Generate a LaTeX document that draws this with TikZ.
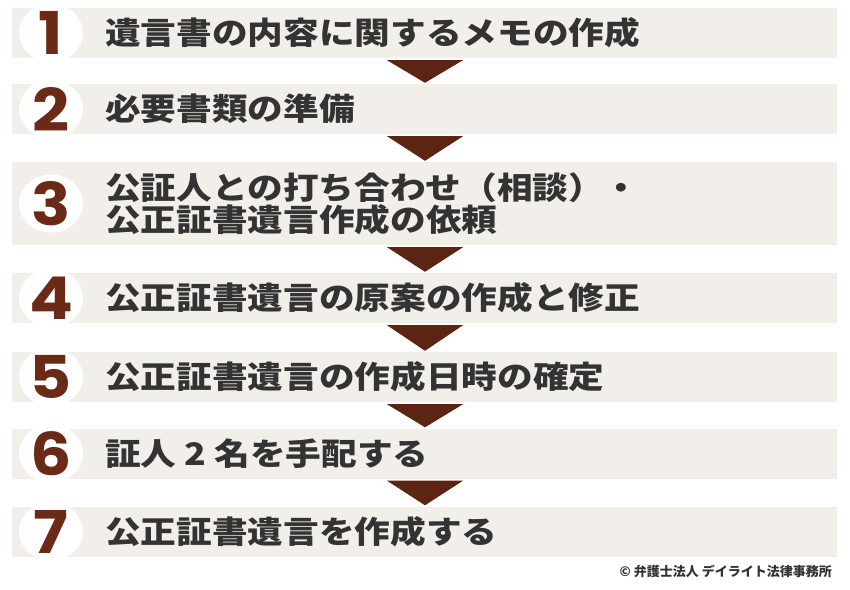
\documentclass[tikz,border=0pt]{standalone}
\usepackage{fontspec}
\usepackage{tikz}
\usetikzlibrary{calc}
\newfontfamily\jpfont{Noto Sans CJK JP}
\newfontfamily\numfont{Poppins}
\definecolor{barfill}{HTML}{F2EEE9}
\definecolor{arrowbrown}{HTML}{5B2413}
\definecolor{numbrown}{HTML}{6A2A16}
\definecolor{textgray}{HTML}{333333}
\tikzstyle{stepbar}=[shape=rectangle,fill=barfill,minimum width=825pt,minimum height=50pt,inner sep=0pt]
\tikzstyle{badge}=[shape=circle,fill=white,minimum size=58pt,inner sep=0pt,xscale=1.1,transform shape,text=numbrown,font=\numfont\bfseries\fontsize{59}{59}\selectfont]
\tikzstyle{steptext}=[anchor=west,inner sep=0pt,xscale=1.15,transform shape,align=left,text=textgray,font=\jpfont\bfseries\fontsize{31}{32}\selectfont]
\tikzstyle{downarrow}=[fill=arrowbrown]

\begin{document}
\begin{tikzpicture}[x=1pt,y=-1pt]
\useasboundingbox (0,0) rectangle (850,589);
% bars
\node[stepbar] (bar1) at (424.5,33) {};
\node[stepbar] (bar2) at (424.5,109) {};
\node[stepbar,minimum height=83pt] (bar3) at (424.5,203.5) {};
\node[stepbar] (bar4) at (424.5,298) {};
\node[stepbar] (bar5) at (424.5,377) {};
\node[stepbar] (bar6) at (424.5,453.5) {};
\node[stepbar] (bar7) at (424.5,531.5) {};
% numbers
\node[badge] (n1) at (51,33) {1};
\node[badge] (n2) at (51,109) {2};
\node[badge] (n3) at (51,203.5) {3};
\node[badge] (n4) at (51,298) {4};
\node[badge] (n5) at (51,377) {5};
\node[badge] (n6) at (51,453.5) {6};
\node[badge] (n7) at (51,531.5) {7};
% texts
\node[steptext] (t1) at (105,33) {遺言書の内容に関するメモの作成};
\node[steptext] (t2) at (105,109) {必要書類の準備};
\node[steptext] (t3) at (105,203.5) {公証人との打ち合わせ（相談）・\\公正証書遺言作成の依頼};
\node[steptext] (t4) at (105,298) {公正証書遺言の原案の作成と修正};
\node[steptext] (t5) at (105,377) {公正証書遺言の作成日時の確定};
\node[steptext] (t6) at (105,453.5) {証人 2 名を手配する};
\node[steptext] (t7) at (105,531.5) {公正証書遺言を作成する};
% arrows
\fill[downarrow] ($(bar1.south)+(-37.5,2)$) -- ($(bar1.south)+(38.5,2)$) -- ($(bar2.north)+(0.5,-1)$) -- cycle;
\fill[downarrow] ($(bar2.south)+(-37.5,2)$) -- ($(bar2.south)+(38.5,2)$) -- ($(bar3.north)+(0.5,-1)$) -- cycle;
\fill[downarrow] ($(bar3.south)+(-37.5,2)$) -- ($(bar3.south)+(38.5,2)$) -- ($(bar4.north)+(0.5,-1)$) -- cycle;
\fill[downarrow] ($(bar4.south)+(-37.5,2)$) -- ($(bar4.south)+(38.5,2)$) -- ($(bar5.north)+(0.5,-1)$) -- cycle;
\fill[downarrow] ($(bar5.south)+(-37.5,2)$) -- ($(bar5.south)+(38.5,2)$) -- ($(bar6.north)+(0.5,-1)$) -- cycle;
\fill[downarrow] ($(bar6.south)+(-37.5,2)$) -- ($(bar6.south)+(38.5,2)$) -- ($(bar7.north)+(0.5,-1)$) -- cycle;
% copyright
\node[anchor=east,inner sep=0pt,text=textgray,font=\jpfont\bfseries\fontsize{13}{13}\selectfont] (copy) at (832,571) {© 弁護士法人 デイライト法律事務所};
\end{tikzpicture}
\end{document}
